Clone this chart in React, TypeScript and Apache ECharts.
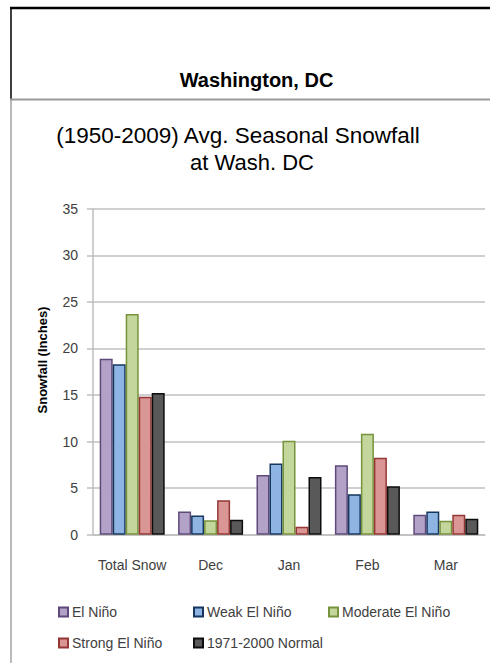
import React, { useEffect, useRef } from "react";
import * as echarts from "echarts";

const categories = ["Total Snow", "Dec", "Jan", "Feb", "Mar"];
const seriesNames = ["El Niño", "Weak El Niño", "Moderate El Niño", "Strong El Niño", "1971-2000 Normal"];
const elNino = [18.9, 2.5, 6.4, 7.45, 2.15];
const weakElNino = [18.3, 2.05, 7.65, 4.35, 2.5];
const moderateElNino = [23.7, 1.55, 10.1, 10.85, 1.5];
const strongElNino = [14.8, 3.7, 0.85, 8.25, 2.15];
const normal = [15.2, 1.6, 6.2, 5.2, 1.7];
const yTicks = [0, 5, 10, 15, 20, 25, 30, 35];

const seriesValues = [elNino, weakElNino, moderateElNino, strongElNino, normal];
const fills = ["#B3A2C7", "#8EB4E3", "#C3D69B", "#D99694", "#595959"];
const borders = ["#5F497A", "#17375E", "#77933C", "#953735", "#0D0D0D"];

const FONT = "'Liberation Sans', Arial, sans-serif";

export default function App() {
  const ref = useRef<HTMLDivElement>(null);
  useEffect(() => {
    if (!ref.current) return;
    const chart = echarts.init(ref.current, null, { renderer: "svg" });
    const legendPos = [
      { left: 58, top: 605 },
      { left: 193, top: 605 },
      { left: 328, top: 605 },
      { left: 58, top: 636 },
      { left: 193, top: 636 },
    ];
    chart.setOption({
      animation: false,
      backgroundColor: "#ffffff",
      textStyle: { fontFamily: FONT },
      grid: { left: 93, right: 5, top: 208.7, bottom: 128.3, containLabel: false },
      legend: seriesNames.map((n, i) => ({
        data: [n],
        left: legendPos[i].left,
        top: legendPos[i].top,
        padding: 0,
        itemWidth: 9,
        itemHeight: 9,
        icon: "rect",
        selectedMode: false,
        textStyle: { fontFamily: FONT, fontSize: 14, color: "#404040", padding: [0, 0, 0, -1] },
      })),
      xAxis: {
        type: "category",
        data: categories,
        axisLine: { show: true, lineStyle: { color: "#BFBFBF", width: 1.5 } },
        axisTick: { show: false },
        axisLabel: { fontFamily: FONT, fontSize: 14, color: "#404040", margin: 23, interval: 0 },
      },
      yAxis: {
        type: "value",
        min: yTicks[0],
        max: yTicks[yTicks.length - 1],
        interval: 5,
        axisLine: { show: true, lineStyle: { color: "#BFBFBF", width: 1.5 } },
        axisTick: { show: true, inside: false, length: 6, lineStyle: { color: "#BFBFBF", width: 1.5 } },
        axisLabel: { fontFamily: FONT, fontSize: 14, color: "#404040", margin: 15 },
        splitLine: { show: true, lineStyle: { color: "#C0C0C0", width: 1.5 } },
      },
      series: seriesNames.map((n, i) => ({
        name: n,
        type: "bar",
        data: seriesValues[i],
        barWidth: 13,
        barGap: "0%",
        itemStyle: { color: fills[i], borderColor: borders[i], borderWidth: 1.5 },
      })),
      graphic: [
        { type: "line", shape: { x1: 10, y1: 8, x2: 490, y2: 8 }, style: { stroke: "#000000", lineWidth: 2.5 } },
        { type: "line", shape: { x1: 11, y1: 7, x2: 11, y2: 99 }, style: { stroke: "#000000", lineWidth: 1.5 } },
        { type: "line", shape: { x1: 11, y1: 99, x2: 11, y2: 663 }, style: { stroke: "#8C8C8C", lineWidth: 1.2 } },
        { type: "line", shape: { x1: 10, y1: 99.5, x2: 490, y2: 99.5 }, style: { stroke: "#999999", lineWidth: 2 } },
        {
          type: "text",
          x: 256.5,
          y: 80,
          style: { text: "Washington, DC", font: `bold 20px ${FONT}`, fill: "#000000", textAlign: "center", textVerticalAlign: "middle" },
        },
        {
          type: "text",
          x: 238,
          y: 135,
          style: { text: "(1950-2009) Avg. Seasonal Snowfall", font: `22.5px ${FONT}`, fill: "#000000", textAlign: "center", textVerticalAlign: "middle" },
        },
        {
          type: "text",
          x: 252,
          y: 162,
          style: { text: "at Wash. DC", font: `22px ${FONT}`, fill: "#000000", textAlign: "center", textVerticalAlign: "middle" },
        },
        {
          type: "text",
          x: 42,
          y: 360,
          rotation: Math.PI / 2,
          style: { text: "Snowfall (Inches)", font: `bold 13px ${FONT}`, fill: "#000000", textAlign: "center", textVerticalAlign: "middle" },
        },
      ],
    });
    return () => chart.dispose();
  }, []);
  return <div ref={ref} style={{ position: "absolute", left: 0, top: 0, width: 490, height: 663 }} />;
}
